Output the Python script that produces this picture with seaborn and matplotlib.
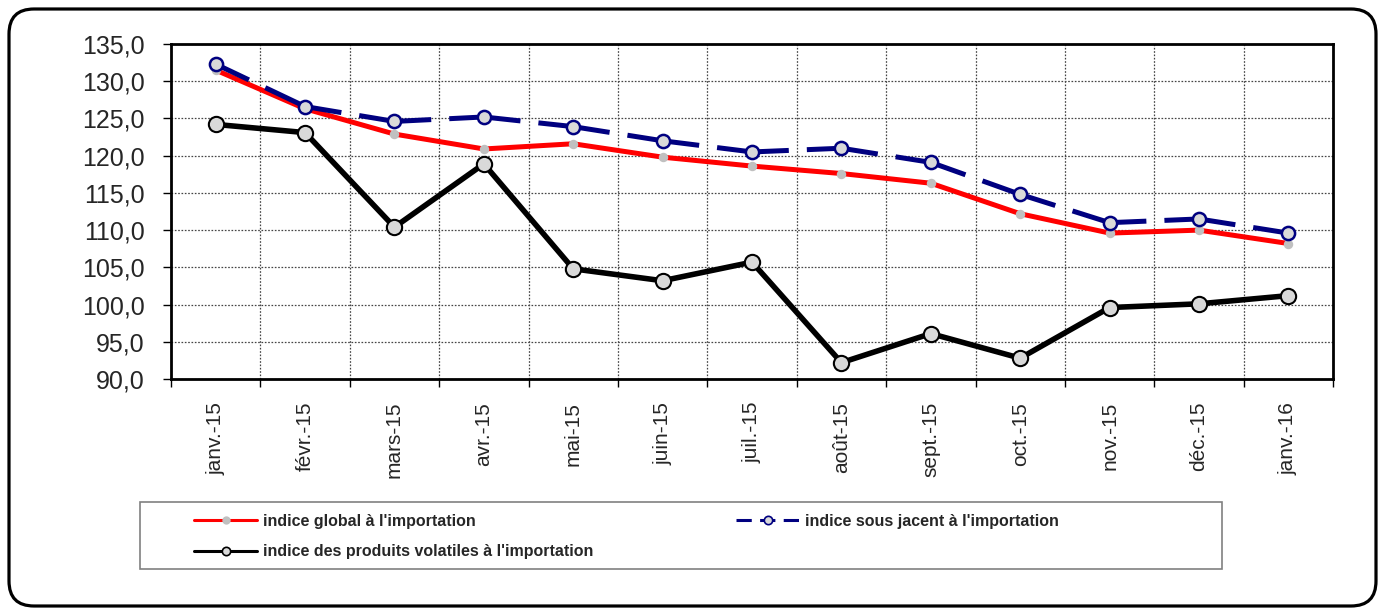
# -*- coding: utf-8 -*-
import numpy as np
import pandas as pd
import seaborn as sns
import matplotlib.pyplot as plt
from matplotlib.lines import Line2D
from matplotlib.patches import FancyBboxPatch, Rectangle

# Données
mois = ["janv.-15", "févr.-15", "mars-15", "avr.-15", "mai-15", "juin-15", "juil.-15",
        "août-15", "sept.-15", "oct.-15", "nov.-15", "déc.-15", "janv.-16"]
indice_global = [131.5, 126.3, 122.9, 120.9, 121.6, 119.8, 118.6, 117.6, 116.3, 112.2, 109.6, 110.0, 108.2]
indice_sous_jacent = [132.3, 126.6, 124.6, 125.2, 123.9, 122.0, 120.5, 121.0, 119.1, 114.8, 111.0, 111.5, 109.6]
indice_volatiles = [124.2, 123.1, 110.4, 118.9, 104.8, 103.2, 105.7, 92.2, 96.1, 92.8, 99.6, 100.1, 101.2]

lab_global = "indice global à l'importation"
lab_sous = "indice sous jacent à l'importation"
lab_vol = "indice des produits volatiles à l'importation"

sns.set_theme(style="white")
plt.rcParams['font.family'] = ['Liberation Sans', 'DejaVu Sans']
plt.rcParams['lines.scale_dashes'] = False

x = np.arange(len(mois))

fig = plt.figure(figsize=(13.81, 6.12), dpi=100)
ax = fig.add_axes([0.1238, 0.3807, 0.8415, 0.5474])

# indice global (rouge)
sns.lineplot(x=x, y=indice_global, ax=ax, color="red", lw=3.6, marker="o", markersize=6.8,
             markerfacecolor="#c0c0c0", markeredgewidth=0, zorder=3)

# indice sous jacent (bleu, tirets qui recommencent à chaque segment comme dans Excel)
seg = pd.DataFrame({
    "x": np.concatenate([[i, i + 1] for i in range(len(mois) - 1)]),
    "y": np.concatenate([[indice_sous_jacent[i], indice_sous_jacent[i + 1]] for i in range(len(mois) - 1)]),
    "seg": np.repeat(np.arange(len(mois) - 1), 2),
})
sns.lineplot(data=seg, x="x", y="y", units="seg", estimator=None, ax=ax, color="#000080",
             lw=3.6, linestyle=(0, (26.5, 13, 300, 1)), zorder=4)
ax.plot(x, indice_sous_jacent, linestyle="none", marker="o", markersize=9.5,
        markerfacecolor="#d9d9d9", markeredgecolor="#000080", markeredgewidth=1.8, zorder=4.5)

# indice volatiles (noir)
sns.lineplot(x=x, y=indice_volatiles, ax=ax, color="black", lw=4.0, marker="o", markersize=11,
             markerfacecolor="#d9d9d9", markeredgecolor="black", markeredgewidth=1.5, zorder=5)

# axes
ax.set_xlim(-0.5, len(mois) - 0.5)
ax.set_ylim(90, 135)
yt = np.arange(90, 136, 5)
ax.set_yticks(yt)
ax.set_yticklabels([f"{v:.1f}".replace(".", ",") for v in yt])
ax.set_xticks(x)
ax.set_xticklabels(mois)
ax.set_xticks(np.arange(-0.5, len(mois), 1.0), minor=True)
ax.set_xlabel("")
ax.set_ylabel("")

ax.grid(False)
ax.grid(which="minor", axis="x", color="#444444", linestyle=(0, (1.2, 1.2)), lw=0.9)
ax.grid(which="major", axis="y", color="#444444", linestyle=(0, (1.2, 1.2)), lw=0.9)

ax.tick_params(axis="x", which="major", length=0, pad=16.5, labelsize=15, rotation=90, bottom=True)
ax.tick_params(axis="x", which="minor", length=6, width=1, color="black", direction="out", bottom=True)
ax.tick_params(axis="y", which="major", length=6, width=1, color="black", direction="out",
               pad=13, labelsize=18, left=True)
for s in ax.spines.values():
    s.set_visible(True)
    s.set_color("black")
    s.set_linewidth(2)

# cadre arrondi autour du graphique
fig.patches.append(FancyBboxPatch((0.09, 0.06), 13.67, 5.97,
                                  boxstyle="round,pad=0,rounding_size=0.25",
                                  transform=fig.dpi_scale_trans, facecolor="none",
                                  edgecolor="black", lw=2.3, zorder=0))

# cadre de la légende
fig.patches.append(Rectangle((1.40, 0.43), 10.82, 0.67, transform=fig.dpi_scale_trans,
                             facecolor="white", edgecolor="#808080", lw=1.2, zorder=1))

handles = [
    Line2D([], [], color="red", lw=2.2, marker="o", markersize=6, markerfacecolor="#c0c0c0",
           markeredgewidth=0),
    Line2D([], [], color="black", lw=2.2, marker="o", markersize=6, markerfacecolor="#d9d9d9",
           markeredgecolor="black", markeredgewidth=1.2),
    Line2D([], [], color="#000080", lw=2.2, linestyle=(0, (11, 6)), marker="o", markersize=6,
           markerfacecolor="#d9d9d9", markeredgecolor="#000080", markeredgewidth=1.2),
]
leg = fig.legend(handles, [lab_global, lab_vol, lab_sous], ncol=2, frameon=False,
                 loc="upper left", bbox_to_anchor=(186 / 1381, 1 - 506 / 612),
                 bbox_transform=fig.transFigure, borderpad=0, handlelength=3.95,
                 handletextpad=0.4, columnspacing=8.9, labelspacing=0.95,
                 prop={"size": 11.5, "weight": "bold"})
leg.set_zorder(2)

fig.savefig("out.png", dpi=100)
